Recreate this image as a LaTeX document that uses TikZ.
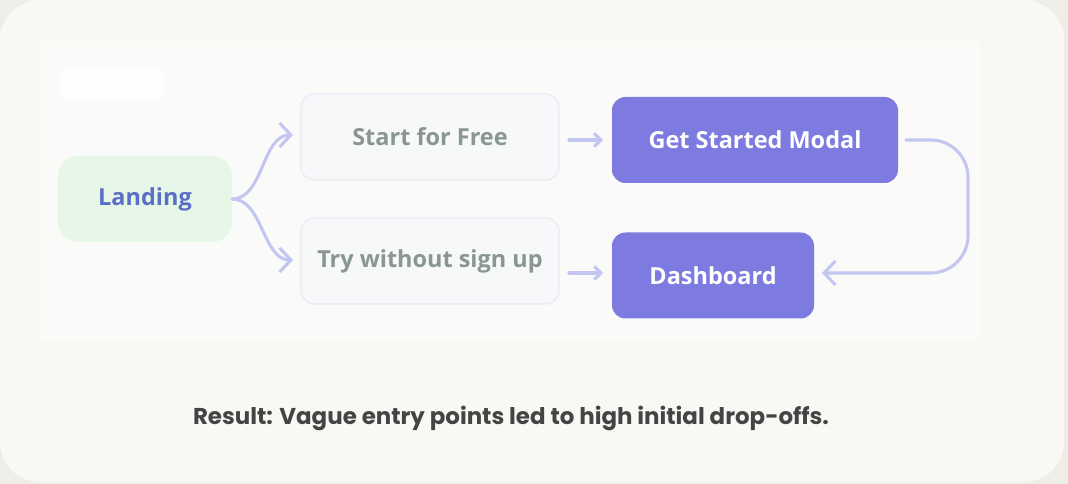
\documentclass[tikz,border=0pt]{standalone}
\usepackage{fontspec}
\setmainfont{Open Sans}
\newfontfamily\resfont{Poppins}
\usetikzlibrary{arrows.meta}
\definecolor{outerbg}{HTML}{EEEDE8}
\definecolor{cardbg}{HTML}{F8F8F5}
\definecolor{panelbg}{HTML}{FAFAF9}
\definecolor{landfill}{HTML}{E6F7E8}
\definecolor{landtext}{HTML}{5B6FC8}
\definecolor{optfill}{HTML}{F7F8FA}
\definecolor{optline}{HTML}{ECEAF5}
\definecolor{opttext}{HTML}{8A9790}
\definecolor{purple}{HTML}{7E7BE0}
\definecolor{conn}{HTML}{C4C6F2}
\definecolor{restext}{HTML}{444444}
\tikzset{
  px/.style={x=0.75pt,y=-0.75pt},
  landbox/.style={rectangle, rounded corners=15pt, fill=landfill, text=landtext,
    font=\fontsize{17.6pt}{20pt}\selectfont\bfseries, minimum width=130.5pt, minimum height=64.5pt, inner sep=0pt},
  optbox/.style={rectangle, rounded corners=10pt, fill=optfill, draw=optline, line width=1pt, text=opttext,
    font=\fontsize{17.6pt}{20pt}\selectfont\bfseries, minimum width=193.5pt, minimum height=64.5pt, inner sep=0pt},
  primbox/.style={rectangle, rounded corners=10pt, fill=purple, text=white,
    font=\fontsize{17.6pt}{20pt}\selectfont\bfseries, minimum height=64.5pt, inner sep=0pt},
  flow/.style={draw=conn, line width=2.3pt, line cap=round, line join=round,
    -{Straight Barb[length=8.5pt,width=18pt,line width=2.3pt]}},
  flowsmall/.style={draw=conn, line width=2.3pt, line cap=round,
    -{Straight Barb[length=5pt,width=10pt,line width=2.3pt]}},
}
\begin{document}
\begin{tikzpicture}[px]
\fill[outerbg] (0,0) rectangle (1068,484);
\useasboundingbox (0,0) rectangle (1068,484);
\fill[cardbg, rounded corners=30pt] (0,0) rectangle (1064,482);
\fill[panelbg] (40,42) rectangle (980,340);
\fill[white, fill opacity=0.6, rounded corners=2pt] (60,68) rectangle (163,100);

\node[landbox] (land) at (145,199) {Landing};
\node[optbox] (free) at (430,137) {Start for Free};
\node[optbox] (try) at (430,261) {Try without sign up};
\node[primbox, minimum width=214.5pt] (gsm) at (755,140) {Get Started Modal};
\node[primbox, minimum width=151.5pt] (dash) at (713,275.5) {Dashboard};

\coordinate (t1) at (293,135);
\coordinate (t2) at (293,260);
\draw[flow] (land.east) to[out=0,in=180,looseness=0.9] (t1);
\draw[flow] (land.east) to[out=0,in=180,looseness=0.9] (t2);

\coordinate (a1) at (569,140);
\coordinate (a2) at (603,140);
\coordinate (b1) at (569,273);
\coordinate (b2) at (603,273);
\draw[flowsmall] (a1) -- (a2);
\draw[flowsmall] (b1) -- (b2);

\coordinate (c1) at (906,140);
\coordinate (c2) at (968,140);
\coordinate (c3) at (968,273);
\coordinate (c4) at (822,273);
\draw[flow, rounded corners=28pt] (c1) -- (c2) -- (c3) -- (c4);

\node[text=restext, font=\resfont\fontsize{17.2pt}{20pt}\selectfont\bfseries] (res) at (511,418) {Result: Vague entry points led to high initial drop-offs.};
\end{tikzpicture}
\end{document}
